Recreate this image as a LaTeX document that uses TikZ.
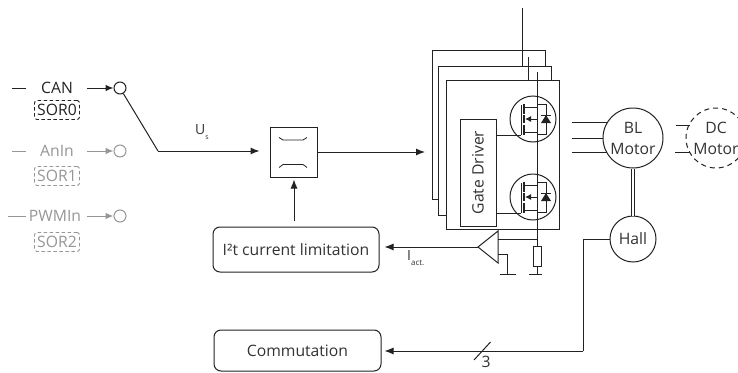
\documentclass[tikz,border=0pt]{standalone}
\usepackage{fontspec}
\setmainfont{Open Sans}
\usetikzlibrary{arrows.meta}
\definecolor{inkline}{HTML}{222222}
\definecolor{inktext}{HTML}{333333}
\definecolor{greyline}{HTML}{969696}
\newcommand{\mainsize}{\fontsize{15.7}{18}\selectfont}
\tikzset{
	conn/.style={draw=inkline,line width=1pt},
	flow/.style={conn,-{Latex[length=9pt,width=7pt]}},
	lbl/.style={text=inktext,font=\mainsize,inner sep=0pt},
	sorbox/.style={draw,dashed,dash pattern=on 3.5pt off 2.5pt,line width=0.9pt,rounded corners=2.5pt,minimum width=45pt,minimum height=19pt,inner sep=0pt,font=\mainsize},
	flatbox/.style={draw=inkline,line width=1pt,fill=white,inner sep=0pt},
	roundbox/.style={flatbox,rounded corners=7pt,text=inktext,font=\mainsize},
	wheel/.style={draw=inkline,line width=1pt,fill=white,circle,inner sep=0pt,align=center,text=inktext,font=\fontsize{15.7}{21}\selectfont},
	inpin/.style={draw,circle,line width=1pt,inner sep=0pt,minimum size=12pt},
}
\begin{document}
\begin{tikzpicture}[x=1pt,y=-1pt]
	\useasboundingbox (0,0) rectangle (738,372);
	\clip (0,0) rectangle (738,372);
	% inputs
	\foreach \name/\txt/\sor/\y/\ys/\start/\stop/\col/\lx in {can/CAN/SOR0/88/110/12/26/inkline/57,anin/AnIn/SOR1/151/176/12/26/greyline/57,pwm/PWMIn/SOR2/216/242/8/26/greyline/55}{
		\node[lbl,text=\col] (\name) at (\lx,\y) {\txt};
		\node[sorbox,draw=\col,text=\col] (\name sor) at (57,\ys) {\sor};
		\node[inpin,draw=\col] (\name pin) at (120,\y) {};
		\coordinate (\name a) at (\start,\y);
		\coordinate (\name b) at (\stop,\y);
		\coordinate (\name c) at (87,\y);
		\draw[conn,draw=\col] (\name a) -- (\name b);
		\draw[conn,draw=\col,-{Latex[length=8pt,width=6.5pt,color=\col]}] (\name c) -- (\name pin);
	}
	% switch and limiter
	\node[flatbox,minimum width=47pt,minimum height=50pt] (limit) at (293.5,152) {};
	\coordinate (knee) at (158,151);
	\draw[conn] (canpin) -- (knee);
	\draw[flow,shorten >=10pt] (knee) -- (limit.west |- knee);
	\node[lbl,font=\fontsize{14}{16}\selectfont] (us) at (202,132) {U\raisebox{-5pt}{\fontsize{7}{8}\selectfont s}};
	\draw[line width=0.8pt,draw=inkline] (279,137.5) -- (283,140) -- (303,140) -- (307,137.5);
	\draw[line width=0.8pt,draw=inkline] (279,167.5) -- (283,164.5) -- (303,164.5) -- (307,167.5);
	\node[roundbox,minimum width=166pt,minimum height=45pt] (i2t) at (296,249.5) {I²t current limitation};
	\node[roundbox,minimum width=167pt,minimum height=41pt] (comm) at (297.5,350.5) {Commutation};
	\coordinate (i2ttop) at (294,221);
	\draw[flow,shorten >=2pt] (i2ttop) -- (limit.south -| i2ttop);
	% power stage
	\node[flatbox,minimum width=113pt,minimum height=149pt] (back) at (488.5,124.5) {};
	\draw[conn] (522,8) -- (522,66);
	\node[flatbox,minimum width=113pt,minimum height=149pt] (mid) at (494.5,140.5) {};
	\draw[conn] (528,57) -- (528,80);
	\node[flatbox,minimum width=113pt,minimum height=149pt] (front) at (502.5,154.5) {};
	\draw[flow] (limit.east |- 0,152) -- (425,152);
	\node[flatbox,minimum width=36pt,minimum height=107pt,text=inktext] (gate) at (478,172.5) {\rotatebox{90}{\mainsize Gate Driver}};
	\node[flatbox,minimum width=8pt,minimum height=20pt] (shunt) at (537,256) {};
	\coordinate (railtop) at (537,72);
	\foreach \y/\name in {119/high,197/low}{
		\node[wheel,minimum size=46pt] (\name) at (533,\y) {};
		\begin{scope}[shift={(533,\y)},line width=1pt,draw=inkline]
			\draw (-12,-14) -- (-12,16);
			\draw[line width=1.3pt] (-9,-15) -- (-9,-5) (-9,-4) -- (-9,4) (-9,6) -- (-9,16);
			\draw (-9,-12) -- (4,-12);
			\draw (-9,13) -- (4,13) -- (4,0);
			\draw[-{Latex[length=6pt,width=6pt]}] (4,0) -- (-8,0);
			\draw (4,-15) -- (13,-15) -- (13,15) -- (4,15);
			\fill[inkline] (8,4) -- (18,4) -- (13,-4) -- cycle;
			\draw (8,-4) -- (18,-4);
		\end{scope}
		\coordinate (\name in) at (521,\y+16);
		\draw[conn] (gate.east |- \name in) -- (\name in);
	}
	\draw[conn] (railtop) -- (shunt);
	% current sense
	\draw[flatbox,fill=none] (478,247) -- (498,231) -- (498,263) -- cycle;
	\coordinate (amptip) at (478,247);
	\draw[conn] (498,239) -- (537,239);
	\draw[conn] (498,254) -- (507,254) -- (507,274);
	\draw[conn] (500,274) -- (516,274);
	\draw[conn] (shunt) -- (537,274);
	\draw[conn] (529,274) -- (542,274);
	\draw[flow,shorten >=5pt] (amptip) -- (i2t.east |- amptip);
	\node[lbl,font=\fontsize{14}{16}\selectfont,anchor=west] (iact) at (407,258) {I\raisebox{-5pt}{\fontsize{8}{9}\selectfont act.}};
	% motors
	\coordinate (blcentre) at (633,138);
	\foreach \y in {122,138,152}{
		\coordinate (phase\y) at (572,\y);
		\draw[conn] (phase\y) -- (blcentre |- phase\y);
	}
	\node[wheel,minimum size=60pt] (bl) at (blcentre) {BL\\Motor};
	\node[wheel,minimum size=60pt,dashed,dash pattern=on 5pt off 4pt] (dc) at (716,138) {DC\\Motor};
	\node[wheel,minimum size=46pt] (hall) at (633,239) {Hall};
	\draw[conn] (676,125) -- (690,125) (675,152) -- (690,152);
	\draw[conn,double=white,double distance=2.5pt,line width=0.8pt] (bl) -- (hall);
	% hall feedback
	\coordinate (hallturn) at (583,239);
	\coordinate (commturn) at (583,351);
	\draw[conn] (hall) -- (hallturn) -- (commturn);
	\draw[flow,shorten >=3pt] (commturn) -- (comm.east |- commturn);
	\draw[conn] (474,360) -- (490.5,342);
	\node[lbl] (three) at (486,362) {3};
\end{tikzpicture}
\end{document}
